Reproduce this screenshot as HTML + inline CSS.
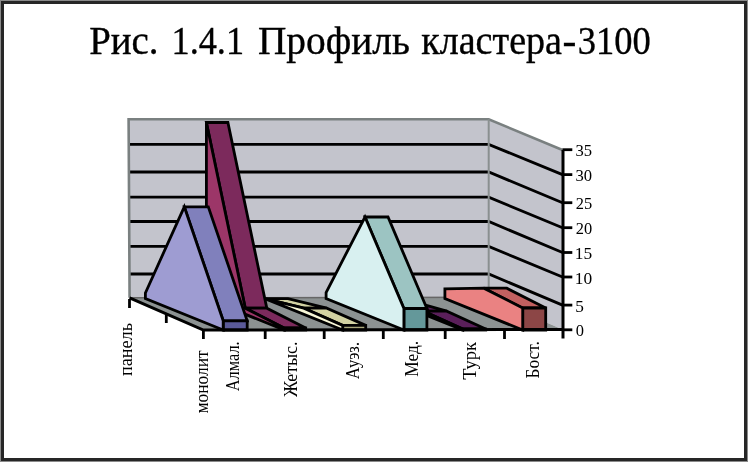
<!DOCTYPE html>
<html><head><meta charset="utf-8"><style>
html,body{margin:0;padding:0;background:#fff;}
body{width:748px;height:462px;overflow:hidden;}
svg{display:block;}
</style></head><body>
<svg width="748" height="462" viewBox="0 0 748 462" font-family="'Liberation Serif', 'Times New Roman', serif">
<rect x="0" y="0" width="748" height="462" fill="#8a8a8a"/>
<rect x="1" y="1" width="746" height="460" fill="#262626"/>
<rect x="4" y="4" width="740" height="454" fill="#ffffff"/>
<text x="89.13" y="53.60" font-size="39.5" textLength="69.40" lengthAdjust="spacingAndGlyphs" fill="#000" stroke="#000" stroke-width="0.35">Рис.</text>
<text x="171.54" y="53.60" font-size="39.5" textLength="72.54" lengthAdjust="spacingAndGlyphs" fill="#000" stroke="#000" stroke-width="0.35">1.4.1</text>
<text x="257.92" y="53.60" font-size="39.5" textLength="152.08" lengthAdjust="spacingAndGlyphs" fill="#000" stroke="#000" stroke-width="0.35">Профиль</text>
<text x="421.24" y="53.60" font-size="39.5" textLength="140.73" lengthAdjust="spacingAndGlyphs" fill="#000" stroke="#000" stroke-width="0.35">кластера</text>
<text x="562.44" y="53.60" font-size="39.5" textLength="13.83" lengthAdjust="spacingAndGlyphs" fill="#000" stroke="#000" stroke-width="0.35">-</text>
<text x="577.78" y="53.60" font-size="39.5" textLength="72.98" lengthAdjust="spacingAndGlyphs" fill="#000" stroke="#000" stroke-width="0.35">3100</text>
<polygon points="128.6,119.3 488.7,119.3 488.7,297.3 129.6,297.8" fill="#c3c4cc"/>
<polygon points="488.7,119.3 562.5,150.0 562.5,329.5 488.7,297.3" fill="#c3c4cc"/>
<polyline points="129.6,144.4 488.7,144.4 562.5,174.6" fill="none" stroke="#000" stroke-width="2.8"/>
<polyline points="129.6,172.0 488.7,172.0 562.5,202.7" fill="none" stroke="#000" stroke-width="2.8"/>
<polyline points="129.6,197.2 488.7,197.2 562.5,227.7" fill="none" stroke="#000" stroke-width="2.8"/>
<polyline points="129.6,221.5 488.7,221.5 562.5,252.5" fill="none" stroke="#000" stroke-width="2.8"/>
<polyline points="129.6,246.4 488.7,246.4 562.5,277.0" fill="none" stroke="#000" stroke-width="2.8"/>
<polyline points="129.6,274.0 488.7,274.0 562.5,305.1" fill="none" stroke="#000" stroke-width="2.8"/>
<polyline points="129.6,297.8 128.6,119.3 488.7,119.3 562.5,150.0" fill="none" stroke="#7a8080" stroke-width="2.6"/>
<line x1="488.7" y1="119.3" x2="488.7" y2="297.3" stroke="#8a9090" stroke-width="2"/>
<polygon points="129.6,297.8 488.7,297.3 562.5,329.5 203.4,330.0" fill="#8c9292"/>
<line x1="129.6" y1="297.8" x2="488.7" y2="297.3" stroke="#666" stroke-width="1.5"/>
<g stroke="#000" stroke-width="2.8" stroke-linejoin="miter" stroke-miterlimit="3">
<polygon points="483.8,288.2 506.8,288.2 545.7,308.0 522.7,308.0" fill="#c26060"/>
<polygon points="522.7,330.0 545.7,330.0 545.7,308.0 522.7,308.0" fill="#8c4646"/>
<polygon points="444.9,298.6 444.9,288.9 483.8,288.2 522.7,308.0 522.7,330.0" fill="#ea8282"/>
<polygon points="384.9,300.1 407.9,300.1 446.8,311.2 423.8,311.2" fill="#5a1f5a"/>
<polygon points="423.8,311.2 446.8,311.2 485.7,329.0 462.7,329.0" fill="#5a1f5a"/>
<polygon points="462.7,330.0 485.7,330.0 485.7,329.0 462.7,329.0" fill="#461446"/>
<polygon points="384.9,298.6 384.9,300.1 423.8,311.2 462.7,329.0 462.7,330.0" fill="#7a3a7a"/>
<polygon points="365.0,217.0 388.0,217.0 426.9,308.5 403.9,308.5" fill="#9cc4c2"/>
<polygon points="403.9,330.0 426.9,330.0 426.9,308.5 403.9,308.5" fill="#64989a"/>
<polygon points="326.1,298.6 326.1,292.5 365.0,217.0 403.9,308.5 403.9,330.0" fill="#d8f0f0"/>
<polygon points="264.9,298.6 287.9,298.6 326.8,308.2 303.8,308.2" fill="#d2d2a2"/>
<polygon points="303.8,308.2 326.8,308.2 365.7,325.4 342.7,325.4" fill="#d2d2a2"/>
<polygon points="342.7,330.0 365.7,330.0 365.7,325.4 342.7,325.4" fill="#aaa87c"/>
<polygon points="264.9,298.6 264.9,298.6 303.8,308.2 342.7,325.4 342.7,330.0" fill="#f6f6d6"/>
<polygon points="206.4,122.5 227.9,122.5 266.8,308.2 245.3,308.2" fill="#7c2a5c"/>
<polygon points="245.3,308.2 266.8,308.2 305.7,328.0 284.2,328.0" fill="#7c2a5c"/>
<polygon points="284.2,330.0 305.7,330.0 305.7,328.0 284.2,328.0" fill="#5c1a3c"/>
<polygon points="206.4,298.6 206.4,122.5 245.3,308.2 284.2,328.0 284.2,330.0" fill="#9c3668"/>
<polygon points="184.3,206.8 208.3,206.8 247.2,320.8 223.2,320.8" fill="#8080bc"/>
<polygon points="223.2,330.0 247.2,330.0 247.2,320.8 223.2,320.8" fill="#5a5a98"/>
<polygon points="145.4,298.6 145.4,293.0 184.3,206.8 223.2,320.8 223.2,330.0" fill="#9e9cd2"/>
</g>
<polyline points="129.6,297.8 203.4,330.0 562.5,329.5" fill="none" stroke="#000" stroke-width="3"/>
<line x1="563.0" y1="150.0" x2="563.0" y2="338.5" stroke="#000" stroke-width="3"/>
<line x1="562.5" y1="149.7" x2="572.3" y2="149.7" stroke="#000" stroke-width="2.8"/>
<text x="575.57" y="156.30" font-size="17" textLength="16.59" lengthAdjust="spacingAndGlyphs" fill="#000">35</text>
<line x1="562.5" y1="174.6" x2="572.3" y2="174.6" stroke="#000" stroke-width="2.8"/>
<text x="575.57" y="181.20" font-size="17" textLength="16.59" lengthAdjust="spacingAndGlyphs" fill="#000">30</text>
<line x1="562.5" y1="202.7" x2="572.3" y2="202.7" stroke="#000" stroke-width="2.8"/>
<text x="575.74" y="209.30" font-size="17" textLength="16.41" lengthAdjust="spacingAndGlyphs" fill="#000">25</text>
<line x1="562.5" y1="227.7" x2="572.3" y2="227.7" stroke="#000" stroke-width="2.8"/>
<text x="575.74" y="234.30" font-size="17" textLength="16.41" lengthAdjust="spacingAndGlyphs" fill="#000">20</text>
<line x1="562.5" y1="252.5" x2="572.3" y2="252.5" stroke="#000" stroke-width="2.8"/>
<text x="574.84" y="259.10" font-size="17" textLength="17.36" lengthAdjust="spacingAndGlyphs" fill="#000">15</text>
<line x1="562.5" y1="277.0" x2="572.3" y2="277.0" stroke="#000" stroke-width="2.8"/>
<text x="574.84" y="283.60" font-size="17" textLength="17.36" lengthAdjust="spacingAndGlyphs" fill="#000">10</text>
<line x1="562.5" y1="305.1" x2="572.3" y2="305.1" stroke="#000" stroke-width="2.8"/>
<text x="575.26" y="311.70" font-size="17" textLength="8.63" lengthAdjust="spacingAndGlyphs" fill="#000">5</text>
<line x1="562.5" y1="329.8" x2="572.3" y2="329.8" stroke="#000" stroke-width="2.8"/>
<text x="575.64" y="336.40" font-size="17" textLength="8.21" lengthAdjust="spacingAndGlyphs" fill="#000">0</text>
<line x1="203.4" y1="330" x2="203.4" y2="339" stroke="#000" stroke-width="2.8"/>
<line x1="265.2" y1="330" x2="265.2" y2="339" stroke="#000" stroke-width="2.8"/>
<line x1="324.2" y1="330" x2="324.2" y2="339" stroke="#000" stroke-width="2.8"/>
<line x1="383.3" y1="330" x2="383.3" y2="339" stroke="#000" stroke-width="2.8"/>
<line x1="445.2" y1="330" x2="445.2" y2="339" stroke="#000" stroke-width="2.8"/>
<line x1="504.5" y1="330" x2="504.5" y2="339" stroke="#000" stroke-width="2.8"/>
<line x1="129.5" y1="299" x2="129.5" y2="308" stroke="#000" stroke-width="2.8"/>
<line x1="166.3" y1="314" x2="166.3" y2="323" stroke="#000" stroke-width="2.8"/>
<text transform="translate(132.40,376.06) rotate(-90)" font-size="18" textLength="53.09" lengthAdjust="spacingAndGlyphs" fill="#000">панель</text>
<text transform="translate(207.50,413.55) rotate(-90)" font-size="18" textLength="63.23" lengthAdjust="spacingAndGlyphs" fill="#000">монолит</text>
<text transform="translate(238.80,391.26) rotate(-90)" font-size="18" textLength="49.99" lengthAdjust="spacingAndGlyphs" fill="#000">Алмал.</text>
<text transform="translate(297.20,397.00) rotate(-90)" font-size="18" textLength="55.59" lengthAdjust="spacingAndGlyphs" fill="#000">Жетыс.</text>
<text transform="translate(358.90,379.27) rotate(-90)" font-size="18" textLength="37.37" lengthAdjust="spacingAndGlyphs" fill="#000">Ауэз.</text>
<text transform="translate(417.60,376.82) rotate(-90)" font-size="18" textLength="35.96" lengthAdjust="spacingAndGlyphs" fill="#000">Мед.</text>
<text transform="translate(476.40,379.87) rotate(-90)" font-size="18" textLength="37.81" lengthAdjust="spacingAndGlyphs" fill="#000">Турк</text>
<text transform="translate(538.50,378.42) rotate(-90)" font-size="18" textLength="37.32" lengthAdjust="spacingAndGlyphs" fill="#000">Бост.</text>
</svg>
</body></html>
